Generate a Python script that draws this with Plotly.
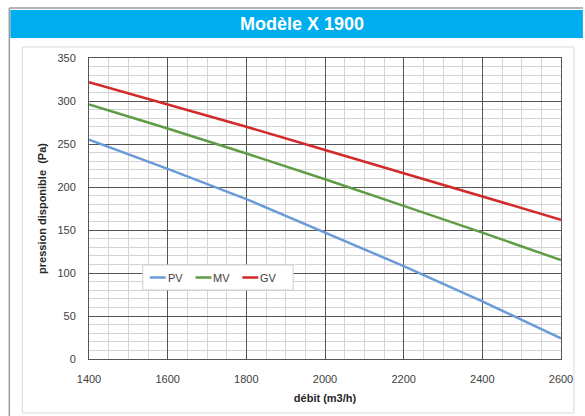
import plotly.graph_objects as go

debit = [1400, 1600, 1800, 2000, 2200, 2400, 2600]
pv = [255, 221, 186, 147, 108, 67, 24]
mv = [296, 268, 239, 209, 178, 147, 115]
gv = [322, 296, 270, 243, 216, 189, 162]
series_names = ["PV", "MV", "GV"]
series_colors = ["#6A9BD8", "#5E9D45", "#D2292A"]

W, H = 585, 416
L, R, T, B = 89, 563, 58, 359

def px(x):
    return (x - L) / (R - L)

def py(y):
    return (B - y) / (B - T)

fig = go.Figure()
for name, vals, col in zip(series_names, [pv, mv, gv], series_colors):
    fig.add_trace(go.Scatter(x=debit, y=vals, name=name, mode="lines",
                             line=dict(color=col, width=2.5), showlegend=False))

shapes = [
    dict(type="line", xref="paper", yref="paper", x0=px(9), x1=px(585), y0=py(8), y1=py(8),
         line=dict(color="#9a9a9a", width=1.5)),
    dict(type="line", xref="paper", yref="paper", x0=px(9), x1=px(9), y0=py(8), y1=py(416),
         line=dict(color="#9a9a9a", width=1.5)),
    dict(type="rect", xref="paper", yref="paper", x0=px(10), x1=px(585), y0=py(38), y1=py(10),
         fillcolor="#00AEEF", line=dict(width=0), layer="below"),
    dict(type="rect", xref="paper", yref="paper", x0=px(22), x1=px(576), y0=py(413), y1=py(47),
         fillcolor="rgba(0,0,0,0)", line=dict(color="#d9d9d9", width=1), layer="below"),
    # legend box
    dict(type="rect", xref="paper", yref="paper", x0=px(143), x1=px(294), y0=py(290), y1=py(265),
         fillcolor="white", line=dict(color="#d0d0d0", width=1), layer="above"),
]
annotations = [dict(text="<b>Modèle X 1900</b>", xref="paper", yref="paper",
                    x=px(303), y=py(24), showarrow=False,
                    font=dict(family="Liberation Sans, Arial", size=18, color="white"),
                    xanchor="center", yanchor="middle")]
leg_x = [150, 196, 243]
for name, col, lx in zip(series_names, series_colors, leg_x):
    shapes.append(dict(type="line", xref="paper", yref="paper", x0=px(lx), x1=px(lx + 16),
                       y0=py(277.5), y1=py(277.5), line=dict(color=col, width=2.5), layer="above"))
    annotations.append(dict(text=name, xref="paper", yref="paper", x=px(lx + 16), y=py(277.5),
                            xanchor="left", yanchor="middle", showarrow=False,
                            font=dict(size=11, color="#404040")))

fig.update_layout(
    width=W, height=H,
    margin=dict(l=L, r=W - R, t=T, b=H - B),
    paper_bgcolor="white", plot_bgcolor="white",
    shapes=shapes, annotations=annotations,
    font=dict(family="Liberation Sans, Arial", size=11, color="#404040"),
    showlegend=False,
)

fig.update_xaxes(range=[1400, 2600], dtick=200, tick0=1400,
                 showgrid=True, gridcolor="#555555", gridwidth=1,
                 minor=dict(dtick=50, showgrid=True, gridcolor="#d4d4d4", gridwidth=1),
                 showline=True, linecolor="#555555", mirror=True,
                 ticks="", zeroline=False, ticklabelstandoff=10,
                 title=dict(text="<b>débit (m3/h)</b>", font=dict(size=11, color="#262626"), standoff=10))
fig.update_yaxes(range=[0, 350], dtick=50, tick0=0,
                 showgrid=True, gridcolor="#555555", gridwidth=1,
                 minor=dict(dtick=10, showgrid=True, gridcolor="#d4d4d4", gridwidth=1),
                 showline=True, linecolor="#555555", mirror=True,
                 ticks="", zeroline=False, ticklabelstandoff=10,
                 title=dict(text="<b>pression disponible  (Pa)</b>", font=dict(size=11, color="#262626"), standoff=8))

fig.write_html("out.html", config={"displayModeBar": False})
with open("out.html", encoding="utf-8") as f:
    html = f.read()
html = html.replace("<head>", "<head><style>html,body{margin:0;padding:0;overflow:hidden;}</style>", 1)
with open("out.html", "w", encoding="utf-8") as f:
    f.write(html)
